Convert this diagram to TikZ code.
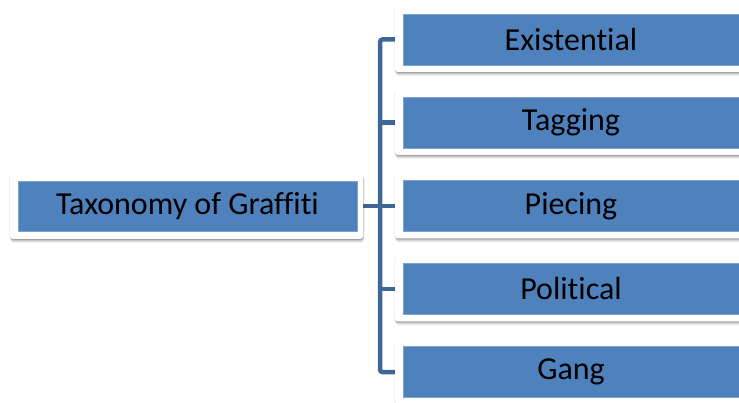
\documentclass[tikz,border=0pt]{standalone}
\usepackage{fontspec}
\setmainfont[Ligatures=NoCommon]{Carlito}
\usetikzlibrary{shadows,backgrounds}
\definecolor{boxblue}{HTML}{4F81BD}
\definecolor{boxedge}{HTML}{7FA2CF}
\definecolor{linkblue}{HTML}{3E6697}
\begin{document}
\begin{tikzpicture}[x=1pt,y=-1pt,
  outerbox/.style={draw=none, fill=white, rounded corners=3pt, inner sep=0pt,
    general shadow={fill=black, opacity=0.10, shadow yshift=-1pt, shadow xshift=0pt},
    general shadow={fill=black, opacity=0.10, shadow yshift=-2pt, shadow xshift=0.5pt},
    general shadow={fill=black, opacity=0.08, shadow yshift=-3pt, shadow xshift=0.5pt},
    general shadow={fill=black, opacity=0.06, shadow yshift=-4pt, shadow xshift=1pt},
    general shadow={fill=black, opacity=0.05, shadow yshift=-1pt, shadow xshift=-1pt},
    general shadow={fill=black, opacity=0.05, shadow yshift=-1pt, shadow xshift=1.5pt}},
  innerbox/.style={fill=boxblue, draw=boxedge, line width=0.8pt, inner sep=0pt,
    text=black, font=\fontsize{32}{38}\selectfont},
  link/.style={draw=linkblue, line width=4.5pt, rounded corners=2.5pt}]
\useasboundingbox (0,0) rectangle (739,403);
\clip (0,0) rectangle (739,403);
% left box
\node[outerbox, minimum width=353pt, minimum height=66pt] (lo) at (186.5,206) {};
\node[innerbox, minimum width=339pt, minimum height=50pt] (li) at (187.5,206) {Taxonomy of Graffiti};
% right boxes
\foreach \n/\c/\t in {1/39.5/Existential, 2/122.5/Tagging, 3/206/Piecing, 4/289/Political, 5/372/Gang}{
  \node[outerbox, minimum width=352pt, minimum height=65pt] (ro\n) at (571,\c) {};
  \node[innerbox, minimum width=336pt, minimum height=51pt] (ri\n) at (571,\c) {\t};
}
\coordinate (spine) at (380,206);
\begin{pgfonlayer}{background}
  \draw[link] (lo.east) -- (spine);
  \draw[link] (ro1.west) -| (spine) |- (ro5.west);
  \draw[link] (ro2.west) -- (ro2.west -| spine);
  \draw[link] (ro3.west) -- (ro3.west -| spine);
  \draw[link] (ro4.west) -- (ro4.west -| spine);
\end{pgfonlayer}
\end{tikzpicture}
\end{document}
